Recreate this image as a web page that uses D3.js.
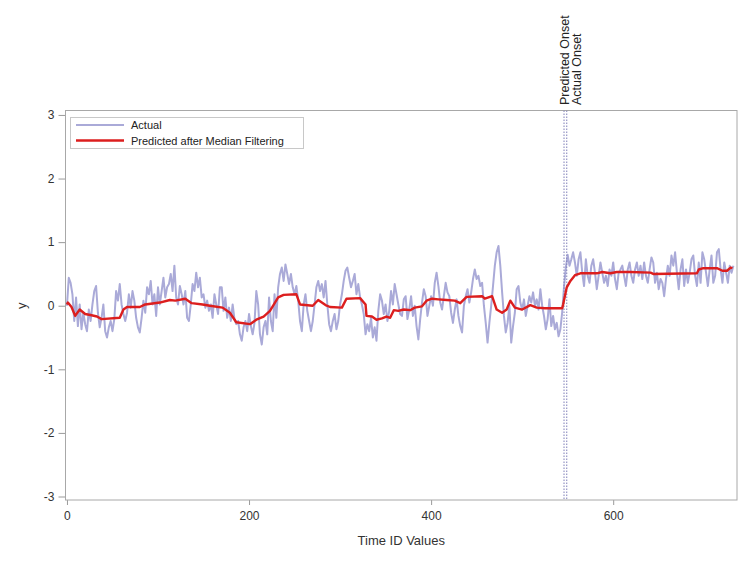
<!DOCTYPE html>
<html><head><meta charset="utf-8">
<script src="https://cdn.jsdelivr.net/npm/d3@7"></script>
<style>body{margin:0;background:#fff}</style>
</head><body>
<svg id="c" width="752" height="564"></svg>
<script>
// Actual series, sampled every 2 time units (t = 0, 2, 4, ..., 732)
const actualValues = [0.00,
0.44,0.36,0.18,-0.24,0.13,-0.32,0.02,-0.37,-0.11,-0.29,
-0.40,-0.06,-0.24,0.02,0.23,0.31,-0.11,-0.34,-0.19,0.02,
-0.40,-0.50,-0.34,-0.24,-0.40,-0.21,0.23,0.08,0.34,0.02,
-0.13,-0.24,-0.11,0.18,-0.03,0.23,0.08,-0.19,-0.34,-0.42,
-0.19,0.08,-0.11,0.29,0.18,0.39,0.02,0.18,-0.16,0.29,
0.02,0.23,0.44,0.13,0.29,0.34,0.50,0.23,0.63,0.13,0.02,
0.31,0.18,0.02,0.23,-0.19,-0.24,0.02,0.34,0.23,0.52,
0.29,0.44,0.13,0.18,-0.03,0.08,-0.08,0.02,-0.19,0.18,
0.02,-0.13,0.29,0.29,-0.08,0.13,-0.19,-0.03,-0.24,0.02,
-0.21,-0.29,-0.24,-0.45,-0.55,-0.34,-0.24,-0.40,-0.13,-0.32,
-0.45,-0.27,0.23,0.02,-0.45,-0.61,-0.34,-0.24,-0.45,0.13,
-0.24,-0.40,0.18,-0.19,0.29,0.50,0.60,0.39,0.65,0.50,0.34,
0.50,0.29,0.18,0.31,0.08,-0.24,-0.40,0.02,0.18,-0.08,
-0.24,-0.40,-0.24,0.02,0.29,0.39,0.23,0.34,0.13,0.39,
0.02,-0.29,-0.40,-0.24,-0.13,-0.37,-0.24,0.02,0.18,0.39,
0.55,0.60,0.44,0.29,0.39,0.50,0.18,0.34,0.13,0.02,
-0.13,-0.45,-0.29,-0.40,-0.19,-0.50,-0.34,-0.55,-0.08,0.18,
0.08,-0.13,0.02,-0.24,-0.08,0.23,0.02,0.34,0.18,0.02,-0.13,
-0.16,0.10,0.15,-0.21,-0.06,0.15,-0.16,0.00,-0.32,-0.53,
-0.21,0.05,0.26,0.15,-0.16,0.00,0.15,0.00,0.36,0.52,
0.31,0.05,-0.06,0.15,0.36,0.21,0.15,-0.11,-0.27,-0.06,
0.10,-0.16,-0.32,-0.42,0.00,0.15,0.26,0.05,0.21,0.42,
0.57,0.42,0.47,0.31,0.36,0.00,-0.27,-0.58,-0.27,0.00,
0.31,0.63,0.84,0.94,0.63,0.21,-0.16,-0.42,-0.27,0.00,
-0.58,-0.32,-0.11,0.26,0.31,0.05,-0.06,0.10,-0.16,0.00,
0.15,0.05,0.21,0.00,0.10,-0.06,0.26,0.00,-0.16,-0.37,
-0.21,0.10,-0.32,-0.16,-0.37,-0.27,-0.48,-0.37,-0.10,0.30,
0.60,0.80,0.63,0.73,0.84,0.68,0.47,0.73,0.84,0.52,
0.31,0.73,0.47,0.36,0.63,0.73,0.52,0.26,0.47,0.68,
0.52,0.36,0.47,0.31,0.57,0.47,0.68,0.42,0.26,0.52,0.57,
0.63,0.47,0.31,0.57,0.68,0.47,0.36,0.57,0.68,0.47,
0.63,0.42,0.68,0.47,0.36,0.57,0.76,0.68,0.36,0.52,
0.26,0.42,0.36,0.15,0.42,0.63,0.47,0.79,0.63,0.84,
0.52,0.26,0.57,0.73,0.31,0.57,0.36,0.52,0.73,0.79,
0.47,0.31,0.68,0.36,0.84,0.73,0.52,0.31,0.57,0.79,
0.36,0.47,0.84,0.89,0.57,0.36,0.68,0.52,0.36,0.63,
0.52,0.63];
const actualStep = 2;

// Predicted after median filtering (time, value) readings
const predTimes = [0,1,5,9,14,20,27,33,38,58,62,66,80,86,102,113,119,130,137,149,157,171,179,186,201,208,216,223,232,238,252,256,270,276,284,289,302,307,322,328,329,335,340,346,351,355,359,364,370,377,382,390,395,401,408,417,426,432,439,456,459,467,472,478,483,487,492,500,509,516,525,544,545,549,553,558,564,582,588,597,604,619,641,644,692,694,699,714,720,725,729,731];
const predValues = [0.02,0.05,-0.02,-0.16,-0.06,-0.13,-0.15,-0.17,-0.21,-0.19,-0.06,-0.02,-0.02,0.02,0.05,0.09,0.08,0.11,0.04,0.02,0.00,-0.03,-0.11,-0.26,-0.29,-0.22,-0.17,-0.08,0.13,0.17,0.18,0.02,0.00,0.09,0.01,-0.02,-0.03,0.11,0.12,0.02,-0.16,-0.17,-0.22,-0.20,-0.17,-0.19,-0.07,-0.08,-0.06,-0.07,-0.03,-0.01,0.08,0.11,0.10,0.09,0.08,0.04,0.14,0.15,0.11,0.15,-0.06,-0.11,-0.06,0.08,-0.03,-0.06,0.01,-0.03,-0.04,-0.04,0.02,0.29,0.39,0.48,0.51,0.51,0.53,0.51,0.53,0.53,0.52,0.50,0.51,0.57,0.59,0.59,0.55,0.55,0.60,0.59];

const onsetTimes = [546, 549];
const onsetLabels = ["Predicted Onset", "Actual Onset"];
const xTicks = [0, 200, 400, 600];
const yTicks = [-3, -2, -1, 0, 1, 2, 3];
const legendLabels = ["Actual", "Predicted after Median Filtering"];
const colors = {actual: "#aaaad8", pred: "#dc1e1e", ref: "#7f7fb8"};

const svg = d3.select("#c");
const font = "'Liberation Sans', Arial, sans-serif";
const L = 65.5, R = 737, T = 110.5, B = 500;
const x = d3.scaleLinear().domain([-1.6, 736]).range([L, R]);
const y = d3.scaleLinear().domain([-3.055, 3.07]).range([B, T]);

const g = svg.append("g");
// clip
svg.append("defs").append("clipPath").attr("id","clip")
  .append("rect").attr("x", L).attr("y", T).attr("width", R-L).attr("height", B-T);

// Axes
const xAxis = d3.axisBottom(x).tickValues(xTicks).tickSize(5).tickPadding(6).tickFormat(d3.format("d"));
const gx = g.append("g").attr("transform", `translate(0,${B})`).call(xAxis);
const yAxis = d3.axisLeft(y).tickValues(yTicks).tickSize(7).tickPadding(4).tickFormat(d => d < 0 ? "-" + Math.abs(d) : d);
const gy = g.append("g").attr("transform", `translate(${L},0)`).call(yAxis);
[gx, gy].forEach(a => {
  a.select(".domain").remove();
  a.selectAll("line").attr("stroke", "#9a9a9a");
  a.selectAll("text").attr("fill", "#333").style("font-family", font).style("font-size", "12px");
});

// Frame
g.append("rect").attr("x", L).attr("y", T).attr("width", R-L).attr("height", B-T)
  .attr("fill", "none").attr("stroke", "#a8a8a8").attr("stroke-width", 1);

// Axis titles
g.append("text").attr("x", (L+R)/2).attr("y", 545).attr("text-anchor","middle")
  .style("font-family", font).style("font-size","13px").attr("fill","#333").text("Time ID Values");
g.append("text").attr("transform", `translate(26,${y(0)}) rotate(-90)`).attr("text-anchor","middle")
  .style("font-family", font).style("font-size","13px").attr("fill","#333").text("y");

const plot = g.append("g").attr("clip-path","url(#clip)");
const actualData = actualValues.map((v,i) => [i*actualStep, v]);
const predData = predTimes.map((t,i) => [t, predValues[i]]);
const line = d3.line().x(d => x(d[0])).y(d => y(d[1]));

plot.append("path").datum(actualData).attr("d", line).attr("fill","none")
  .attr("stroke", colors.actual).attr("stroke-width", 2).attr("stroke-linejoin","round");

// reference lines
onsetTimes.forEach((t, i) => {
  plot.append("line").attr("x1", x(t)).attr("x2", x(t)).attr("y1", T).attr("y2", B)
    .attr("stroke", colors.ref).attr("stroke-width", 1).attr("stroke-dasharray", "1.5,1.5");
});

plot.append("path").datum(predData).attr("d", line).attr("fill","none")
  .attr("stroke", colors.pred).attr("stroke-width", 2.4).attr("stroke-linejoin","round");

// onset labels above plot
const labelOffsets = [5, 14];
onsetTimes.forEach((t, i) => {
  g.append("text").attr("transform", `translate(${x(t)+labelOffsets[i]},105) rotate(-90)`)
    .attr("text-anchor","start").style("font-family", font).style("font-size","12.5px")
    .attr("fill","#222").text(onsetLabels[i]);
});

// Legend
const lg = g.append("g");
lg.append("rect").attr("x", 70.5).attr("y", 117.5).attr("width", 233).attr("height", 31)
  .attr("fill","#fff").attr("stroke","#c8c8c8");
[colors.actual, colors.pred].forEach((c, i) => {
  const yy = 125 + i*15.5;
  lg.append("line").attr("x1", 76).attr("x2", 124).attr("y1", yy).attr("y2", yy)
    .attr("stroke", c).attr("stroke-width", i ? 2.4 : 2);
  lg.append("text").attr("x", 131).attr("y", yy + 4).style("font-family", font)
    .style("font-size","11px").attr("fill","#222").text(legendLabels[i]);
});
</script>
</body></html>
